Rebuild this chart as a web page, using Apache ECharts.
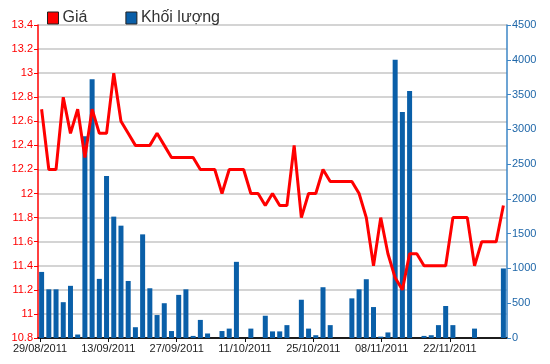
<!DOCTYPE html>
<html><head><meta charset="utf-8">
<script src="https://cdn.jsdelivr.net/npm/echarts@6/dist/echarts.min.js"></script>
<style>html,body{margin:0;padding:0;background:#fff}#c{width:550px;height:364px}</style>
</head><body><div id="c"></div>
<script>
const categories = ['29/08','30/08','31/08','05/09','06/09','07/09','08/09','09/09','12/09','13/09','14/09','15/09','16/09','19/09','20/09','21/09','22/09','23/09','26/09','27/09','28/09','29/09','30/09','03/10','04/10','05/10','06/10','07/10','10/10','11/10','12/10','13/10','14/10','17/10','18/10','19/10','20/10','21/10','24/10','25/10','26/10','27/10','28/10','31/10','01/11','02/11','03/11','04/11','07/11','08/11','09/11','10/11','11/11','14/11','15/11','16/11','17/11','18/11','21/11','22/11','23/11','24/11','25/11','28/11','29/11'];
const price = [12.7,12.2,12.2,12.8,12.5,12.7,12.3,12.7,12.5,12.5,13.0,12.6,12.5,12.4,12.4,12.4,12.5,12.4,12.3,12.3,12.3,12.3,12.2,12.2,12.2,12.0,12.2,12.2,12.2,12.0,12.0,11.9,12.0,11.9,11.9,12.4,11.8,12.0,12.0,12.2,12.1,12.1,12.1,12.1,12.0,11.8,11.4,11.8,11.5,11.3,11.2,11.5,11.5,11.4,11.4,11.4,11.4,11.8,11.8,11.8,11.4,11.6,11.6,11.6,11.9];
const volume = [950,700,700,515,750,50,2900,3720,850,2330,1745,1615,820,155,1490,715,330,500,100,620,700,30,260,65,0,100,135,1095,0,135,0,320,95,95,185,0,550,135,40,730,185,0,0,570,700,845,445,20,80,4000,3250,3550,0,30,40,185,460,185,0,0,135,0,0,0,1000];
const dateLabels = ['29/08/2011','13/09/2011','27/09/2011','11/10/2011','25/10/2011','08/11/2011','22/11/2011'];
const priceTicks = {min:10.8, max:13.4, interval:0.2};
const volTicks = {min:0, max:4500, interval:500};

const chart = echarts.init(document.getElementById('c'), null, {renderer:'canvas'});
const F = 'Liberation Sans, Arial, sans-serif';
const labelIdx = dateLabels.map((d,i)=>i);
chart.setOption({
  animation:false,
  textStyle:{fontFamily:F},
  legend:{
    left:47, top:10, padding:0, itemWidth:11, itemHeight:12, itemGap:38,
    textStyle:{fontSize:16, color:'#333', fontFamily:F, padding:[0,0,0,-1]},
    data:[
      {name:'Giá', icon:'rect', itemStyle:{color:'#ff0000', borderColor:'#222', borderWidth:1}},
      {name:'Khối lượng', icon:'rect', itemStyle:{color:'#0a5fa8', borderColor:'#222', borderWidth:1}}
    ]
  },
  grid:[
    {left:38, right:43, top:25, bottom:26},
    {left:40, right:44, top:25, bottom:26}
  ],
  xAxis:[
    {type:'category', gridIndex:0, data:categories, position:'top', boundaryGap:true,
     axisLine:{show:true, lineStyle:{color:'#111', width:1.5}}, axisTick:{show:false}, axisLabel:{show:false}, splitLine:{show:false}},
    {type:'value', gridIndex:1, min:0, max:466/68.33, position:'bottom',
     axisLine:{show:true, onZero:false, lineStyle:{color:'#111', width:1.5}},
     axisTick:{show:true, length:4, customValues:labelIdx, lineStyle:{color:'#111'}},
     axisLabel:{show:true, customValues:labelIdx, fontSize:11, color:'#222', margin:5, fontFamily:F,
       formatter:v=>dateLabels[Math.round(v)]||''},
     splitLine:{show:false}}
  ],
  yAxis:[
    {type:'value', gridIndex:0, min:priceTicks.min, max:priceTicks.max, interval:priceTicks.interval, position:'left',
     axisLine:{show:true, lineStyle:{color:'#ff0000', width:1.5}},
     axisTick:{show:true, length:4, lineStyle:{color:'#ff0000'}},
     axisLabel:{color:'#ff0000', fontSize:11, margin:5, fontFamily:F, formatter:v=>String(+v.toFixed(1))},
     splitLine:{show:true, lineStyle:{color:'#d4d4d4', width:2}}},
    {type:'value', gridIndex:0, min:volTicks.min, max:volTicks.max, interval:volTicks.interval, position:'right',
     axisLine:{show:true, lineStyle:{color:'#3d86c6', width:1.5}},
     axisTick:{show:true, length:4, lineStyle:{color:'#3d86c6'}},
     axisLabel:{color:'#1e66a8', fontSize:11, margin:5, fontFamily:F, formatter:v=>String(v)},
     splitLine:{show:false}},
    {type:'value', gridIndex:1, show:false, min:0, max:1}
  ],
  series:[
    {name:'Giá', type:'line', xAxisIndex:0, yAxisIndex:0, data:price, symbol:'none', z:5,
     lineStyle:{color:'#ff0000', width:3}, itemStyle:{color:'#ff0000'}},
    {name:'Khối lượng', type:'bar', xAxisIndex:0, yAxisIndex:1, data:volume, barWidth:5, z:2,
     itemStyle:{color:'#0a5fa8'}}
  ]
});
</script></body></html>
